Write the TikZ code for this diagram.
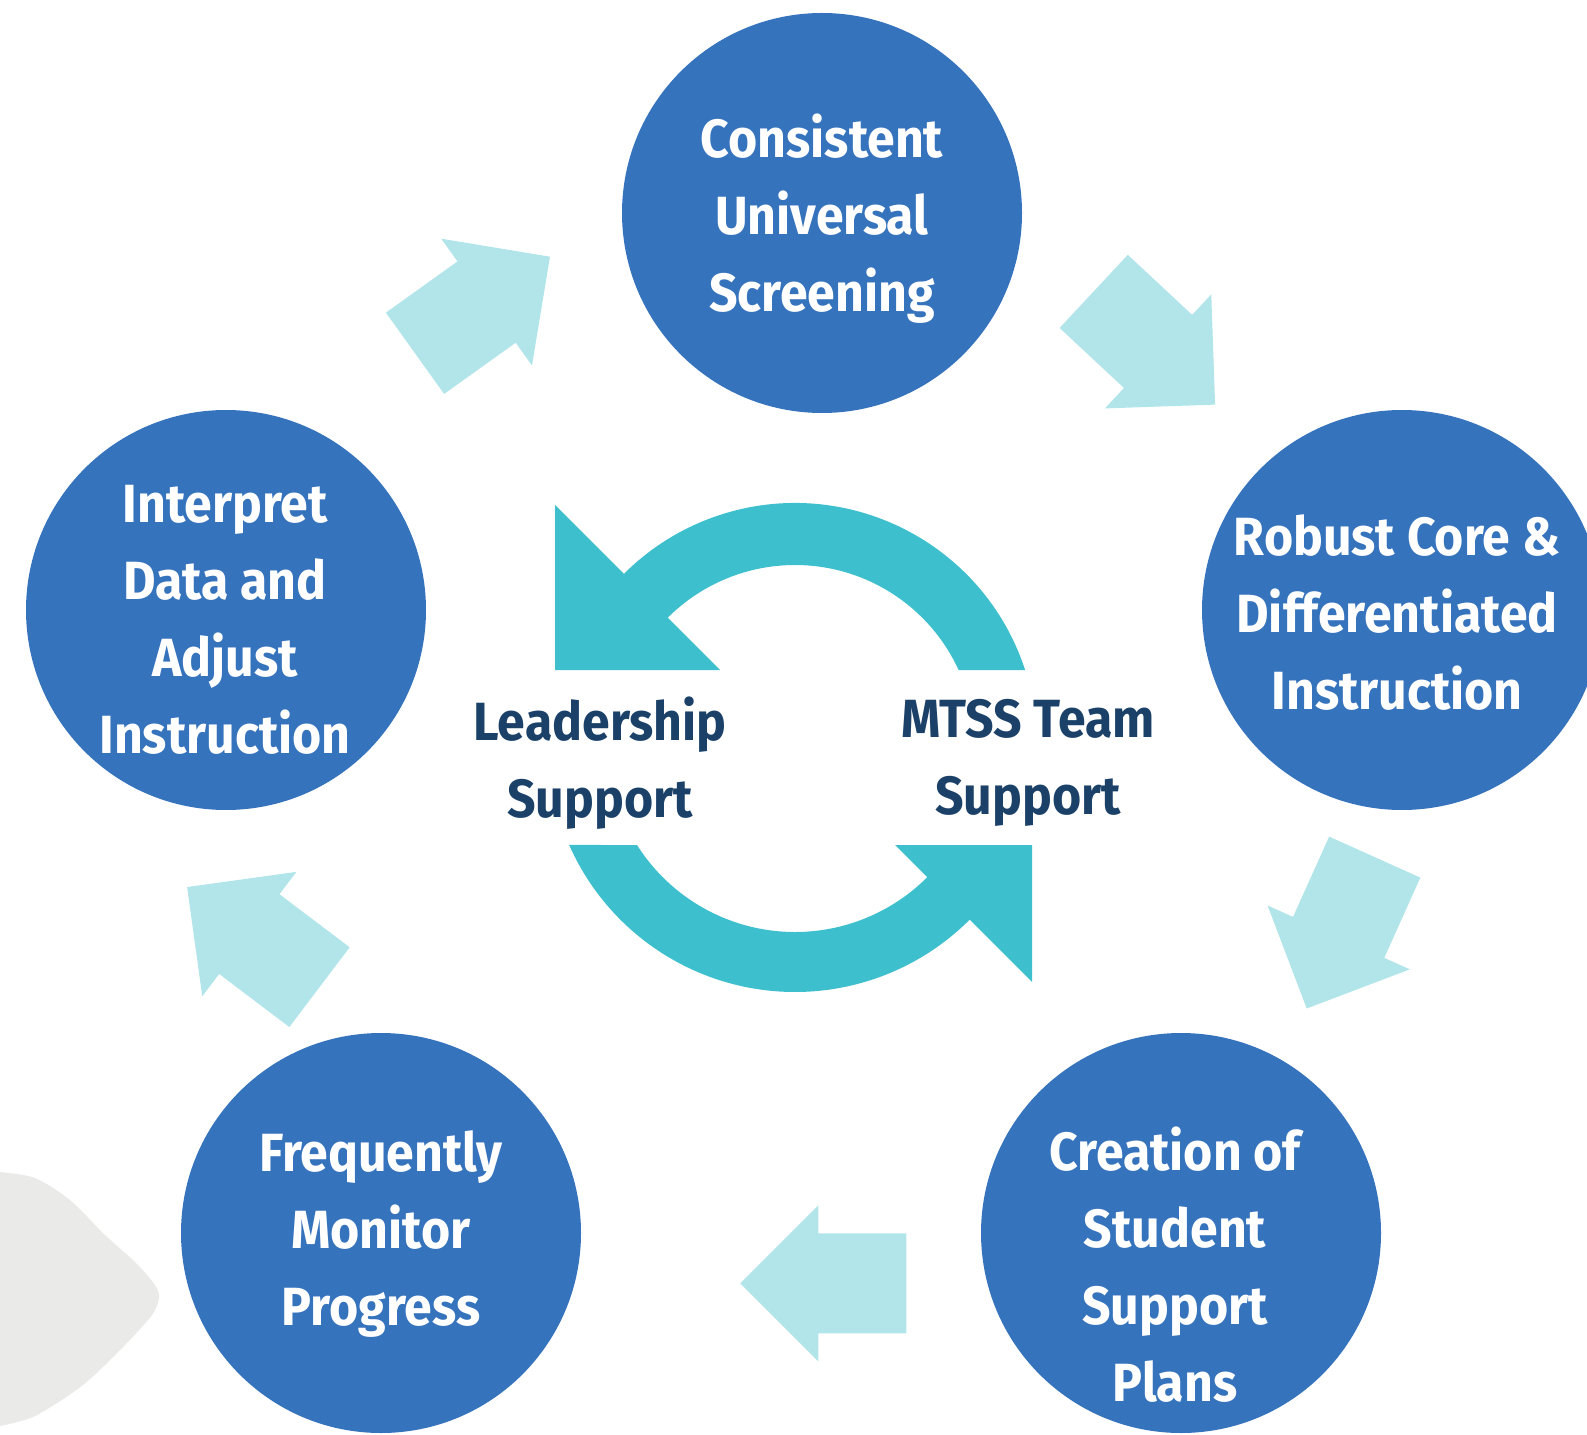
\documentclass[tikz,border=0pt]{standalone}
\usepackage{fontspec}
\setmainfont{Fira Sans}[FakeStretch=0.93]
\usepackage{tikz}
\usetikzlibrary{calc}
\definecolor{dblue}{HTML}{3673BD}
\definecolor{dnavy}{HTML}{1B4168}
\definecolor{lcyan}{HTML}{B1E5EA}
\definecolor{dteal}{HTML}{3DBFCE}
\definecolor{lgrey}{HTML}{EAEBE9}

\begin{document}
\begin{tikzpicture}[x=0.1mm,y=0.1mm,
    stage/.style={circle, fill=dblue, minimum size=40mm, inner sep=0pt},
    stagetext/.style={align=center, text=white,
                      font=\bfseries\fontsize{15.3}{21.9}\selectfont},
    hubtext/.style={align=center, text=dnavy,
                    font=\bfseries\fontsize{15.3}{21.9}\selectfont}]

  \useasboundingbox (0,0) rectangle (1587,-1434);
  \clip (0,0) rectangle (1587,-1434);

  % ----- mancha cinza (canto) -----
  \fill[lgrey] plot[smooth] coordinates {(0,-1172) (35,-1178) (70,-1200)
      (105,-1235) (135,-1262) (155,-1285) (159,-1298) (152,-1315)
      (125,-1345) (83,-1385) (35,-1416) (0,-1426)} -- cycle;

  % ----- etapas -----
  \node[stage] (screen)  at (822,-213)  {};
  \node[stage] (core)    at (1402,-610) {};
  \node[stage] (plans)   at (1181,-1233) {};
  \node[stage] (monitor) at (381,-1233) {};
  \node[stage] (adjust)  at (226,-610)  {};

  \node[stagetext] (screen-t)  at ($(screen)+(0,-6)$)   {Consistent\\Universal\\Screening};
  \node[stagetext] (core-t)    at ($(core)+(-5,-3)$)    {Robust Core \&\\Differentiated\\Instruction};
  \node[stagetext] (plans-t)   at ($(plans)+(-6,-32)$)  {Creation of\\Student\\Support\\Plans};
  \node[stagetext] (monitor-t) at ($(monitor)+(0,-1)$)  {Frequently\\Monitor\\Progress};
  \node[stagetext] (adjust-t)  at ($(adjust)+(-1,-10)$) {Interpret\\Data and\\Adjust\\Instruction};

  % ----- setas entre etapas: \seta{centro}{angulo} -----
  \newcommand{\seta}[2]{%
    \fill[lcyan, shift={(#1)}, rotate=#2]
      (-83,-50) -- (5,-50) -- (5,-78) -- (83,0) -- (5,78) -- (5,50) -- (-83,50) -- cycle;
  }

  \seta{482.5,-305}{35.6}     % adjust -> screen
  \seta{1154.4,-348}{-43}     % screen -> core
  \seta{1340.7,-932.8}{-114.2} % core -> plans
  \seta{823.3,-1283.3}{180}   % plans -> monitor
  \seta{253.3,-937.1}{142.9}  % monitor -> adjust

  % ----- ciclo central -----
  \coordinate (hub) at (795,-745);
  \fill[dteal] ($(hub)+(18.05:242)$) arc[start angle=18.05, end angle=135, radius=242]
    -- (555,-505) -- (555,-670) -- (720,-670)
    -- ($(hub)+(135:180)$) arc[start angle=135, end angle=24.62, radius=180] -- cycle;
  \fill[dteal] ($(hub)+(203.88:247)$) arc[start angle=203.88, end angle=315, radius=247]
    -- (1032,-982) -- (1032,-845) -- (895,-845)
    -- ($(hub)+(315:187)$) arc[start angle=315, end angle=212.33, radius=187] -- cycle;

  \node[hubtext] (lead) at (600,-763)  {Leadership\\Support};
  \node[hubtext] (team) at (1028,-763) {MTSS Team\\Support};

\end{tikzpicture}
\end{document}
